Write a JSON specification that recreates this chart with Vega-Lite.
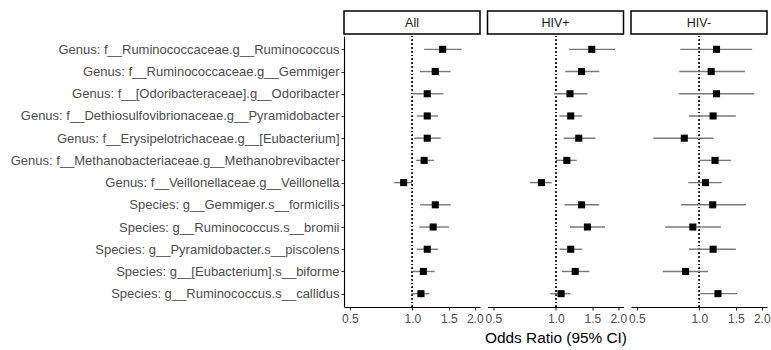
{
  "$schema": "https://vega.github.io/schema/vega-lite/v6.json",
  "padding": {"left": 10, "top": 10, "right": 5, "bottom": 5},
  "background": "white",
  "datasets": {
    "strips": [{"g": "All"}, {"g": "HIV+"}, {"g": "HIV-"}],
    "or": [
      {"group": "All", "label": "Genus: f__Ruminococcaceae.g__Ruminococcus", "or": 1.40, "lo": 1.14, "hi": 1.73},
      {"group": "All", "label": "Genus: f__Ruminococcaceae.g__Gemmiger", "or": 1.29, "lo": 1.09, "hi": 1.53},
      {"group": "All", "label": "Genus: f__[Odoribacteraceae].g__Odoribacter", "or": 1.18, "lo": 1.00, "hi": 1.41},
      {"group": "All", "label": "Genus: f__Dethiosulfovibrionaceae.g__Pyramidobacter", "or": 1.18, "lo": 1.05, "hi": 1.33},
      {"group": "All", "label": "Genus: f__Erysipelotrichaceae.g__[Eubacterium]", "or": 1.18, "lo": 1.02, "hi": 1.37},
      {"group": "All", "label": "Genus: f__Methanobacteriaceae.g__Methanobrevibacter", "or": 1.14, "lo": 1.04, "hi": 1.27},
      {"group": "All", "label": "Genus: f__Veillonellaceae.g__Veillonella", "or": 0.908, "lo": 0.818, "hi": 0.996},
      {"group": "All", "label": "Species: g__Gemmiger.s__formicilis", "or": 1.29, "lo": 1.09, "hi": 1.53},
      {"group": "All", "label": "Species: g__Ruminococcus.s__bromii", "or": 1.26, "lo": 1.08, "hi": 1.50},
      {"group": "All", "label": "Species: g__Pyramidobacter.s__piscolens", "or": 1.18, "lo": 1.05, "hi": 1.33},
      {"group": "All", "label": "Species: g__[Eubacterium].s__biforme", "or": 1.13, "lo": 1.00, "hi": 1.28},
      {"group": "All", "label": "Species: g__Ruminococcus.s__callidus", "or": 1.10, "lo": 0.99, "hi": 1.21},
      {"group": "HIV+", "label": "Genus: f__Ruminococcaceae.g__Ruminococcus", "or": 1.49, "lo": 1.16, "hi": 1.93},
      {"group": "HIV+", "label": "Genus: f__Ruminococcaceae.g__Gemmiger", "or": 1.33, "lo": 1.11, "hi": 1.62},
      {"group": "HIV+", "label": "Genus: f__[Odoribacteraceae].g__Odoribacter", "or": 1.17, "lo": 0.98, "hi": 1.42},
      {"group": "HIV+", "label": "Genus: f__Dethiosulfovibrionaceae.g__Pyramidobacter", "or": 1.18, "lo": 1.04, "hi": 1.34},
      {"group": "HIV+", "label": "Genus: f__Erysipelotrichaceae.g__[Eubacterium]", "or": 1.29, "lo": 1.09, "hi": 1.55},
      {"group": "HIV+", "label": "Genus: f__Methanobacteriaceae.g__Methanobrevibacter", "or": 1.13, "lo": 1.00, "hi": 1.26},
      {"group": "HIV+", "label": "Genus: f__Veillonellaceae.g__Veillonella", "or": 0.852, "lo": 0.75, "hi": 0.956},
      {"group": "HIV+", "label": "Species: g__Gemmiger.s__formicilis", "or": 1.33, "lo": 1.10, "hi": 1.62},
      {"group": "HIV+", "label": "Species: g__Ruminococcus.s__bromii", "or": 1.42, "lo": 1.17, "hi": 1.73},
      {"group": "HIV+", "label": "Species: g__Pyramidobacter.s__piscolens", "or": 1.18, "lo": 1.04, "hi": 1.34},
      {"group": "HIV+", "label": "Species: g__[Eubacterium].s__biforme", "or": 1.24, "lo": 1.07, "hi": 1.45},
      {"group": "HIV+", "label": "Species: g__Ruminococcus.s__callidus", "or": 1.06, "lo": 0.94, "hi": 1.18},
      {"group": "HIV-", "label": "Genus: f__Ruminococcaceae.g__Ruminococcus", "or": 1.21, "lo": 0.81, "hi": 1.80},
      {"group": "HIV-", "label": "Genus: f__Ruminococcaceae.g__Gemmiger", "or": 1.14, "lo": 0.80, "hi": 1.66},
      {"group": "HIV-", "label": "Genus: f__[Odoribacteraceae].g__Odoribacter", "or": 1.21, "lo": 0.797, "hi": 1.84},
      {"group": "HIV-", "label": "Genus: f__Dethiosulfovibrionaceae.g__Pyramidobacter", "or": 1.165, "lo": 0.89, "hi": 1.50},
      {"group": "HIV-", "label": "Genus: f__Erysipelotrichaceae.g__[Eubacterium]", "or": 0.846, "lo": 0.60, "hi": 1.17},
      {"group": "HIV-", "label": "Genus: f__Methanobacteriaceae.g__Methanobrevibacter", "or": 1.19, "lo": 1.00, "hi": 1.42},
      {"group": "HIV-", "label": "Genus: f__Veillonellaceae.g__Veillonella", "or": 1.07, "lo": 0.884, "hi": 1.28},
      {"group": "HIV-", "label": "Species: g__Gemmiger.s__formicilis", "or": 1.16, "lo": 0.815, "hi": 1.68},
      {"group": "HIV-", "label": "Species: g__Ruminococcus.s__bromii", "or": 0.93, "lo": 0.684, "hi": 1.27},
      {"group": "HIV-", "label": "Species: g__Pyramidobacter.s__piscolens", "or": 1.165, "lo": 0.89, "hi": 1.50},
      {"group": "HIV-", "label": "Species: g__[Eubacterium].s__biforme", "or": 0.858, "lo": 0.666, "hi": 1.10},
      {"group": "HIV-", "label": "Species: g__Ruminococcus.s__callidus", "or": 1.23, "lo": 1.01, "hi": 1.52}
    ]
  },
  "config": {
    "view": {"stroke": null},
    "font": "Liberation Sans",
    "axis": {
      "grid": false,
      "domainColor": "black",
      "domainWidth": 1.1,
      "tickColor": "#333333",
      "tickWidth": 1.1,
      "tickSize": 3,
      "labelColor": "#4d4d4d",
      "labelFont": "Liberation Sans",
      "titleFont": "Liberation Sans"
    },
    "axisX": {"labelFontSize": 12, "labelPadding": 3, "labelFlush": false, "labelOverlap": false, "titleFontSize": 15.4, "titleFontWeight": "normal", "titleColor": "black", "titlePadding": 6},
    "axisY": {"labelFontSize": 13, "labelPadding": 2, "labelLimit": 400}
  },
  "spacing": 0.5,
  "hconcat": [
    {
      "spacing": 0,
      "vconcat": [
        {
          "width": 136, "height": 23,
          "data": {"name": "strips"},
          "transform": [{"filter": "datum.g === 'All'"}],
          "view": {"stroke": "black", "strokeWidth": 1.5, "fill": "white"},
          "mark": {"type": "text", "fontSize": 12.5, "color": "#1a1a1a", "baseline": "middle", "align": "center"},
          "encoding": {"text": {"field": "g"}}
        },
        {
          "width": 136, "height": 271,
          "data": {"name": "or"},
          "transform": [{"filter": "datum.group === 'All'"}],
          "layer": [
            {
              "mark": {"type": "rule", "color": "#222222", "strokeWidth": 1.3, "strokeDash": [1.1, 2.7]},
              "encoding": {"x": {"datum": 1, "type": "quantitative", "scale": {"type": "log", "domain": [0.468, 2.12], "nice": false}, "axis": {"values": [0.5, 1, 1.5, 2], "format": ".1f", "title": null}}}
            },
            {
              "mark": {"type": "rule", "color": "#7a7a7a", "strokeWidth": 1.4},
              "encoding": {
                "x": {"field": "lo", "type": "quantitative", "scale": {"type": "log", "domain": [0.468, 2.12], "nice": false}, "axis": {"values": [0.5, 1, 1.5, 2], "format": ".1f", "title": null}},
                "x2": {"field": "hi"},
                "y": {"field": "label", "type": "nominal", "sort": null, "scale": {"type": "point", "padding": 0.6}, "axis": {"title": null}}
              }
            },
            {
              "mark": {"type": "square", "color": "black", "opacity": 1, "size": 50},
              "encoding": {
                "x": {"field": "or", "type": "quantitative", "scale": {"type": "log", "domain": [0.468, 2.12], "nice": false}, "axis": {"values": [0.5, 1, 1.5, 2], "format": ".1f", "title": null}},
                "y": {"field": "label", "type": "nominal", "sort": null, "scale": {"type": "point", "padding": 0.6}, "axis": {"title": null}}
              }
            }
          ]
        }
      ]
    },
    {
      "spacing": 0,
      "vconcat": [
        {
          "width": 136, "height": 23,
          "data": {"name": "strips"},
          "transform": [{"filter": "datum.g === 'HIV+'"}],
          "view": {"stroke": "black", "strokeWidth": 1.5, "fill": "white"},
          "mark": {"type": "text", "fontSize": 12.5, "color": "#1a1a1a", "baseline": "middle", "align": "center"},
          "encoding": {"text": {"field": "g"}}
        },
        {
          "width": 136, "height": 271,
          "data": {"name": "or"},
          "transform": [{"filter": "datum.group === 'HIV+'"}],
          "layer": [
            {
              "mark": {"type": "rule", "color": "#222222", "strokeWidth": 1.3, "strokeDash": [1.1, 2.7]},
              "encoding": {"x": {"datum": 1, "type": "quantitative", "scale": {"type": "log", "domain": [0.468, 2.12], "nice": false}, "axis": {"values": [0.5, 1, 1.5, 2], "format": ".1f", "title": "Odds Ratio (95% CI)"}}}
            },
            {
              "mark": {"type": "rule", "color": "#7a7a7a", "strokeWidth": 1.4},
              "encoding": {
                "x": {"field": "lo", "type": "quantitative", "scale": {"type": "log", "domain": [0.468, 2.12], "nice": false}, "axis": {"values": [0.5, 1, 1.5, 2], "format": ".1f", "title": "Odds Ratio (95% CI)"}},
                "x2": {"field": "hi"},
                "y": {"field": "label", "type": "nominal", "sort": null, "scale": {"type": "point", "padding": 0.6}, "axis": null}
              }
            },
            {
              "mark": {"type": "square", "color": "black", "opacity": 1, "size": 50},
              "encoding": {
                "x": {"field": "or", "type": "quantitative", "scale": {"type": "log", "domain": [0.468, 2.12], "nice": false}, "axis": {"values": [0.5, 1, 1.5, 2], "format": ".1f", "title": "Odds Ratio (95% CI)"}},
                "y": {"field": "label", "type": "nominal", "sort": null, "scale": {"type": "point", "padding": 0.6}, "axis": null}
              }
            }
          ]
        }
      ]
    },
    {
      "spacing": 0,
      "vconcat": [
        {
          "width": 136, "height": 23,
          "data": {"name": "strips"},
          "transform": [{"filter": "datum.g === 'HIV-'"}],
          "view": {"stroke": "black", "strokeWidth": 1.5, "fill": "white"},
          "mark": {"type": "text", "fontSize": 12.5, "color": "#1a1a1a", "baseline": "middle", "align": "center"},
          "encoding": {"text": {"field": "g"}}
        },
        {
          "width": 136, "height": 271,
          "data": {"name": "or"},
          "transform": [{"filter": "datum.group === 'HIV-'"}],
          "layer": [
            {
              "mark": {"type": "rule", "color": "#222222", "strokeWidth": 1.3, "strokeDash": [1.1, 2.7]},
              "encoding": {"x": {"datum": 1, "type": "quantitative", "scale": {"type": "log", "domain": [0.468, 2.12], "nice": false}, "axis": {"values": [0.5, 1, 1.5, 2], "format": ".1f", "title": null}}}
            },
            {
              "mark": {"type": "rule", "color": "#7a7a7a", "strokeWidth": 1.4},
              "encoding": {
                "x": {"field": "lo", "type": "quantitative", "scale": {"type": "log", "domain": [0.468, 2.12], "nice": false}, "axis": {"values": [0.5, 1, 1.5, 2], "format": ".1f", "title": null}},
                "x2": {"field": "hi"},
                "y": {"field": "label", "type": "nominal", "sort": null, "scale": {"type": "point", "padding": 0.6}, "axis": null}
              }
            },
            {
              "mark": {"type": "square", "color": "black", "opacity": 1, "size": 50},
              "encoding": {
                "x": {"field": "or", "type": "quantitative", "scale": {"type": "log", "domain": [0.468, 2.12], "nice": false}, "axis": {"values": [0.5, 1, 1.5, 2], "format": ".1f", "title": null}},
                "y": {"field": "label", "type": "nominal", "sort": null, "scale": {"type": "point", "padding": 0.6}, "axis": null}
              }
            }
          ]
        }
      ]
    }
  ]
}
